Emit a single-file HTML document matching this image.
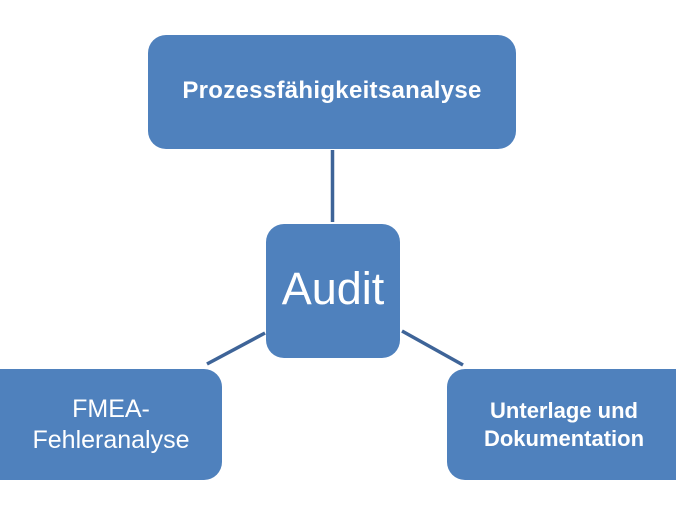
<!DOCTYPE html>
<html><head><meta charset="utf-8"><style>
html,body{margin:0;padding:0;background:#fff;width:676px;height:508px;overflow:hidden;position:relative;font-family:"Liberation Sans",sans-serif}
.b{position:absolute;background:#4f81bd;border-radius:18px;color:#fff;display:flex;align-items:center;justify-content:center;text-align:center}
</style></head><body>
<svg width="676" height="508" style="position:absolute;left:0;top:0">
<g stroke="#3e6498" stroke-width="3.5">
<line x1="332.5" y1="150" x2="332.5" y2="222"/>
<line x1="265" y1="333" x2="207" y2="364"/>
<line x1="402" y1="331" x2="463" y2="365"/>
</g></svg>
<div class="b" style="left:148px;top:35px;width:368px;height:114px;font-weight:bold;font-size:24px;letter-spacing:0.3px;padding-bottom:2px;box-sizing:border-box">Prozessfähigkeitsanalyse</div>
<div class="b" style="left:266px;top:224px;width:134px;height:134px;font-size:45px;padding-bottom:4px;box-sizing:border-box">Audit</div>
<div class="b" style="left:-18px;top:369px;width:240px;height:111px;padding-left:18px;box-sizing:border-box;font-size:25px;line-height:31px">FMEA-<br>Fehleranalyse</div>
<div class="b" style="left:447px;top:369px;width:250px;height:111px;padding-right:16px;box-sizing:border-box;font-size:22px;font-weight:bold;line-height:28px">Unterlage und<br>Dokumentation</div>
</body></html>
